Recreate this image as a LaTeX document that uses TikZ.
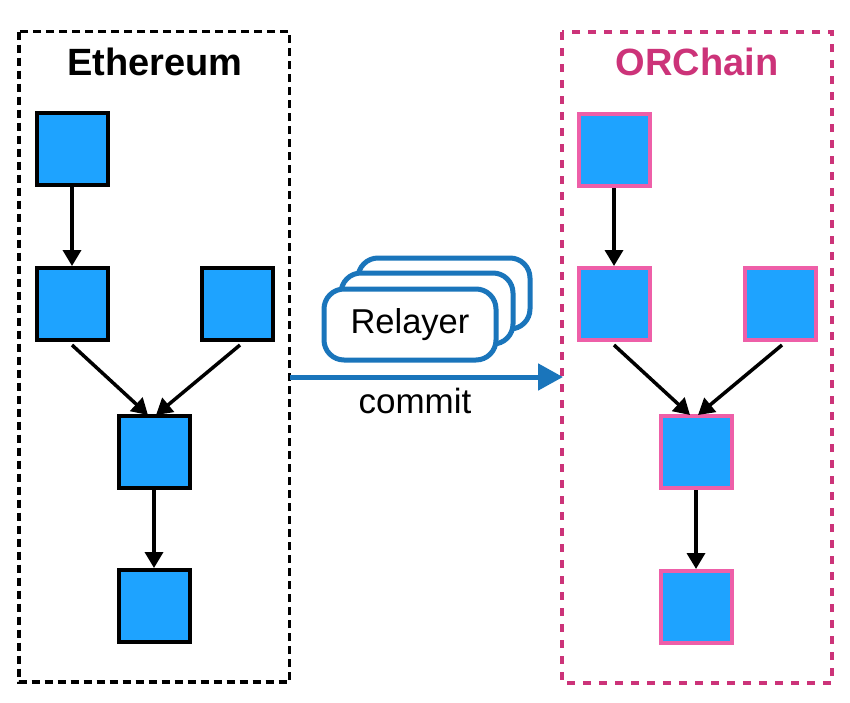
\documentclass[tikz,border=0pt]{standalone}
\usepackage{fontspec}
\setmainfont{Liberation Sans}
\usetikzlibrary{arrows.meta}
\definecolor{blockblue}{HTML}{1EA3FF}
\definecolor{pinkedge}{HTML}{EE5FA8}
\definecolor{orpink}{HTML}{CC3379}
\definecolor{relayblue}{HTML}{1A75BB}
\tikzset{
  block/.style={draw=black, fill=blockblue, line width=4pt, minimum width=71pt, minimum height=72pt, inner sep=0pt},
  pblock/.style={block, draw=pinkedge},
  link/.style={line width=3.5pt, -{Triangle[length=16pt,width=18pt]}},
  relaybox/.style={draw=relayblue, fill=white, line width=5pt, rounded corners=20pt, minimum width=172pt, minimum height=71pt, inner sep=0pt},
  chainbox/.style={line width=3.5pt},
  title/.style={font=\fontsize{38}{40}\selectfont\bfseries},
  lbl/.style={font=\fontsize{34.5}{37}\selectfont}
}
\begin{document}
\begin{tikzpicture}[x=1pt,y=-1pt]
\useasboundingbox (0,0) rectangle (850,702);
% chain containers
\draw[chainbox, black, dash pattern=on 8pt off 5pt] (19,31.5) rectangle (289.5,682);
\draw[chainbox, orpink, dash pattern=on 8pt off 8pt] (562,32) rectangle (832,683);
\node[title] (eth) at (155,62) {Ethereum};
\node[title, text=orpink] (orc) at (697,62) {ORChain};
% Ethereum blocks
\node[block] (a) at (72,149) {};
\node[block] (b) at (72,304) {};
\node[block] (c) at (237,304) {};
\node[block] (d) at (154,452) {};
\node[block] (e) at (154,606) {};
\draw[link] (a.south) -- (b.north);
\draw[link] ([yshift=-3pt]b.south) -- ([xshift=-6pt,yshift=-1pt]d.north);
\draw[link] ([xshift=3pt,yshift=-3pt]c.south) -- ([xshift=2pt,yshift=-1pt]d.north);
\draw[link] (d.south) -- (e.north);
% ORChain blocks
\node[pblock] (a2) at (614,150) {};
\node[pblock] (b2) at (614,304) {};
\node[pblock] (c2) at (780,304) {};
\node[pblock] (d2) at (696,452) {};
\node[pblock] (e2) at (696,607) {};
\draw[link] (a2.south) -- (b2.north);
\draw[link] ([yshift=-3pt]b2.south) -- ([xshift=-6pt,yshift=-1pt]d2.north);
\draw[link] ([xshift=2pt,yshift=-3pt]c2.south) -- ([xshift=2pt,yshift=-1pt]d2.north);
\draw[link] (d2.south) -- (e2.north);
% relayers
\node[relaybox] (r3) at (444,293.5) {};
\node[relaybox] (r2) at (427,308.5) {};
\node[relaybox, lbl] (r1) at (410,324.5) {Relayer};
% commit arrow
\coordinate (cstart) at (289.5,377);
\coordinate (cend) at (563,377);
\draw[relayblue, line width=5pt, -{Triangle[length=25pt,width=26pt]}] (cstart) -- (cend);
\node[font=\fontsize{35}{38}\selectfont] (commit) at (415,401) {commit};
\end{tikzpicture}
\end{document}
